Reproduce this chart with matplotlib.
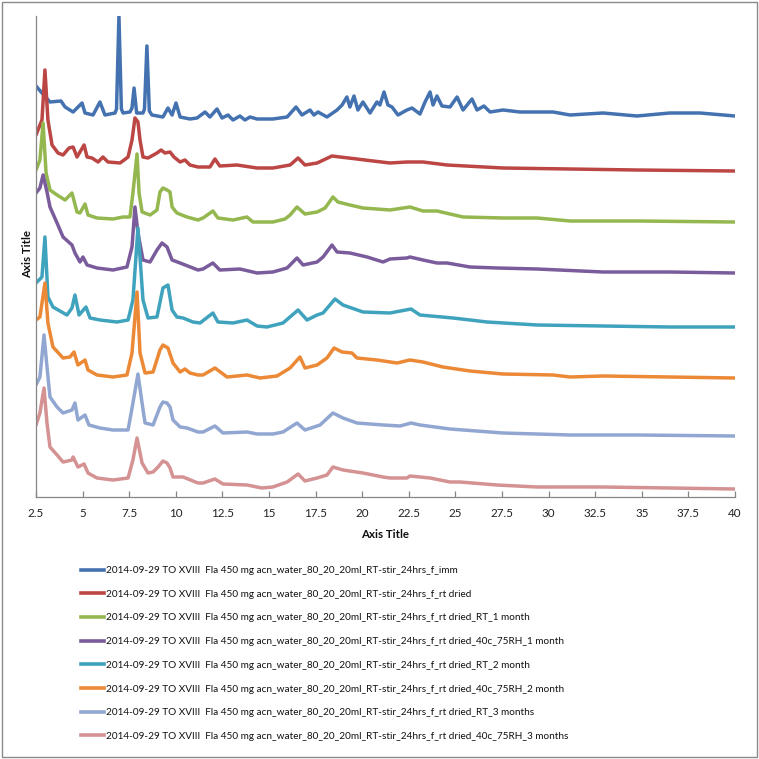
import matplotlib
matplotlib.use("Agg")
import matplotlib.pyplot as plt
from matplotlib.patches import Rectangle
from matplotlib.lines import Line2D
from matplotlib import font_manager

# ---------------- data (2-theta in degrees, intensity in arbitrary stacked units) ----------------
x_imm = [2.50, 2.82, 3.25, 3.84, 4.06, 4.49, 4.97, 5.13, 5.56, 5.93, 6.20, 6.74, 6.82, 6.95, 7.08, 7.17,
         7.54, 7.65, 7.76, 7.90, 8.24, 8.32, 8.45, 8.58, 8.72, 9.31, 9.58, 9.80, 10.01, 10.23, 10.76,
         11.14, 11.57, 11.83, 12.21, 12.48, 12.80, 13.07, 13.44, 13.71, 13.98, 14.36, 15.21, 15.97,
         16.45, 16.77, 17.20, 17.41, 17.63, 18.11, 18.65, 18.92, 19.18, 19.34, 19.56, 19.77, 20.04,
         20.42, 20.79, 20.95, 21.17, 21.38, 21.60, 21.92, 22.40, 22.67, 23.10, 23.37, 23.64, 23.80,
         24.01, 24.28, 24.71, 25.09, 25.41, 25.89, 26.16, 26.53, 26.86, 27.55, 28.47, 30.24, 31.15,
         32.92, 34.74, 36.51, 38.12, 40.00]
y_imm = [404, 397, 388, 389, 383, 378, 387, 377, 375, 388, 375, 377, 381, 474, 381, 377,
         378, 382, 402, 377, 377, 381, 444, 379, 375, 373, 382, 375, 387, 373, 371,
         372, 378, 373, 381, 372, 375, 370, 374, 370, 373, 371, 371, 373,
         383, 375, 380, 375, 378, 373, 380, 385, 393, 383, 394, 380, 388,
         377, 388, 385, 398, 385, 383, 375, 380, 382, 376, 388, 398, 385,
         394, 384, 383, 393, 380, 391, 380, 384, 378, 380, 378, 378, 375,
         377, 374, 377, 377, 374]

x_rtdried = [2.50, 2.82, 2.98, 3.14, 3.36, 3.68, 3.95, 4.27, 4.49, 4.70, 5.08, 5.24, 5.50, 5.83, 6.09,
             6.36, 7.01, 7.44, 7.65, 7.81, 7.97, 8.08, 8.24, 8.51, 8.99, 9.21, 9.42, 9.69, 9.90, 10.23,
             10.49, 10.76, 11.19, 11.83, 12.10, 12.36, 13.28, 14.36, 15.21, 16.13, 16.56, 16.93, 17.58,
             18.38, 18.81, 19.72, 20.58, 21.49, 22.40, 23.26, 24.55, 27.55, 31.15, 34.74, 40.00]
y_rtdried = [355, 370, 420, 370, 345, 337, 335, 342, 343, 333, 345, 333, 332, 328, 333,
             328, 327, 333, 350, 372, 368, 350, 333, 332, 337, 340, 337, 338, 333, 328,
             330, 325, 323, 323, 331, 324, 325, 322, 322, 325, 332, 325, 327,
             334, 333, 331, 329, 327, 328, 328, 325, 322, 321, 320, 319]

x_rt1m = [2.50, 2.71, 2.88, 3.04, 3.25, 3.63, 4.06, 4.43, 4.70, 4.86, 5.13, 5.29, 5.77, 6.63, 7.17,
          7.54, 7.70, 7.92, 8.03, 8.19, 8.62, 8.99, 9.15, 9.31, 9.53, 9.69, 9.80, 10.06, 10.60, 11.19,
          11.46, 11.99, 12.26, 13.07, 13.82, 14.14, 15.21, 15.86, 16.13, 16.50, 16.93, 17.58, 18.01,
          18.43, 18.70, 19.34, 20.04, 21.49, 22.56, 23.26, 24.01, 25.41, 27.55, 29.38, 31.15, 34.74, 40.00]
y_rt1m = [320, 330, 367, 317, 300, 295, 290, 297, 278, 277, 286, 275, 272, 271, 273,
          273, 297, 336, 297, 278, 275, 280, 298, 302, 300, 298, 283, 277, 273, 270,
          272, 279, 272, 270, 273, 268, 268, 271, 275, 283, 276, 278, 282,
          293, 288, 285, 282, 280, 283, 279, 279, 273, 272, 272, 269, 269, 268]

x_40c1m = [2.50, 2.71, 2.88, 3.09, 3.25, 3.63, 3.95, 4.43, 4.59, 4.86, 5.02, 5.24, 5.77, 6.63, 7.38,
           7.65, 7.81, 7.97, 8.24, 8.62, 8.99, 9.26, 9.53, 9.80, 10.23, 11.19, 11.46, 11.99, 12.36,
           13.44, 14.36, 15.21, 15.97, 16.50, 16.83, 17.58, 17.90, 18.38, 18.65, 19.34, 20.26, 21.12,
           21.49, 22.40, 22.56, 23.26, 24.01, 24.55, 25.78, 27.23, 29.38, 32.92, 36.51, 40.00]
y_40c1m = [297, 302, 315, 298, 283, 267, 253, 245, 237, 228, 233, 225, 222, 220, 223,
           243, 283, 257, 230, 228, 240, 247, 243, 230, 227, 220, 221, 227, 220,
           221, 217, 218, 222, 232, 225, 228, 233, 245, 238, 237, 233, 228,
           231, 232, 233, 230, 227, 227, 223, 222, 221, 218, 218, 217]

x_rt2m = [2.50, 2.82, 2.98, 3.14, 3.41, 4.16, 4.43, 4.59, 4.81, 5.18, 5.40, 5.93, 6.85, 7.44, 7.70,
          7.97, 8.24, 8.51, 8.99, 9.31, 9.58, 9.80, 10.06, 10.39, 10.92, 11.30, 11.99, 12.26, 13.07,
          13.82, 14.36, 14.89, 15.75, 16.56, 17.04, 17.58, 17.90, 18.54, 18.97, 20.04, 21.49, 22.62,
          23.10, 24.87, 26.70, 29.38, 32.92, 36.51, 40.00]
y_rt2m = [207, 213, 253, 193, 183, 175, 182, 195, 175, 183, 172, 170, 168, 170, 190,
          262, 190, 172, 173, 202, 205, 180, 173, 172, 168, 167, 177, 168, 167,
          170, 164, 163, 167, 180, 170, 175, 177, 191, 185, 178, 177, 181,
          175, 172, 168, 165, 164, 163, 163]

x_40c2m = [2.50, 2.71, 2.98, 3.14, 3.41, 3.95, 4.32, 4.54, 4.75, 5.13, 5.29, 5.77, 6.63, 7.38, 7.65,
           7.92, 8.08, 8.35, 8.78, 9.15, 9.31, 9.58, 9.85, 10.23, 10.49, 10.76, 11.19, 11.46, 12.10,
           12.75, 13.82, 14.52, 15.43, 16.13, 16.66, 16.93, 17.58, 18.11, 18.49, 18.92, 19.45, 19.72,
           20.79, 21.87, 22.56, 23.26, 24.33, 25.78, 27.55, 30.24, 31.15, 32.92, 36.51, 40.00]
y_40c2m = [170, 173, 207, 167, 143, 132, 133, 138, 125, 130, 120, 115, 113, 115, 137,
           198, 137, 117, 118, 140, 145, 142, 127, 118, 121, 117, 115, 115, 122,
           113, 115, 112, 114, 122, 133, 122, 125, 132, 142, 138, 137, 132,
           130, 127, 130, 128, 123, 119, 116, 115, 113, 114, 113, 112]

x_rt3m = [2.50, 2.71, 2.93, 3.09, 3.25, 3.63, 3.95, 4.43, 4.59, 4.75, 5.13, 5.34, 5.93, 6.63, 7.44,
          7.70, 7.97, 8.19, 8.35, 8.78, 9.15, 9.31, 9.53, 9.69, 9.85, 10.23, 10.60, 11.19, 11.46,
          12.10, 12.53, 13.82, 14.36, 15.21, 15.75, 16.50, 16.93, 17.74, 18.43, 18.97, 19.72, 21.12,
          22.03, 22.62, 23.10, 24.71, 27.55, 31.15, 34.74, 40.00]
y_rt3m = [105, 113, 155, 123, 93, 83, 77, 80, 87, 70, 75, 65, 62, 60, 60,
          87, 116, 87, 67, 65, 83, 88, 87, 83, 70, 63, 62, 58, 58,
          64, 57, 58, 56, 56, 58, 67, 60, 65, 77, 72, 67, 65,
          64, 67, 65, 61, 57, 55, 55, 54]

x_40c3m = [2.50, 2.71, 2.93, 3.09, 3.25, 3.63, 3.95, 4.43, 4.49, 4.75, 5.08, 5.29, 5.77, 6.63, 7.44,
           7.70, 7.92, 8.19, 8.51, 8.78, 9.05, 9.31, 9.53, 9.69, 9.85, 10.39, 11.19, 11.46, 12.10,
           12.53, 13.82, 14.62, 15.21, 15.97, 16.56, 16.93, 17.58, 18.11, 18.43, 18.97, 20.04, 21.12,
           21.49, 22.40, 22.56, 23.64, 24.71, 25.25, 27.23, 29.38, 32.92, 36.51, 40.00]
y_40c3m = [65, 77, 102, 67, 43, 35, 28, 30, 33, 23, 26, 17, 12, 10, 12,
           30, 52, 27, 17, 18, 23, 29, 27, 22, 13, 13, 7, 7, 11,
           6, 5, 2, 3, 8, 16, 9, 12, 15, 23, 20, 17, 13,
           12, 12, 14, 12, 8, 8, 5, 3, 3, 2, 1]

series_names = [
    "2014-09-29 TO XVIII  Fla 450 mg acn_water_80_20_20ml_RT-stir_24hrs_f_imm",
    "2014-09-29 TO XVIII  Fla 450 mg acn_water_80_20_20ml_RT-stir_24hrs_f_rt dried",
    "2014-09-29 TO XVIII  Fla 450 mg acn_water_80_20_20ml_RT-stir_24hrs_f_rt dried_RT_1 month",
    "2014-09-29 TO XVIII  Fla 450 mg acn_water_80_20_20ml_RT-stir_24hrs_f_rt dried_40c_75RH_1 month",
    "2014-09-29 TO XVIII  Fla 450 mg acn_water_80_20_20ml_RT-stir_24hrs_f_rt dried_RT_2 month",
    "2014-09-29 TO XVIII  Fla 450 mg acn_water_80_20_20ml_RT-stir_24hrs_f_rt dried_40c_75RH_2 month",
    "2014-09-29 TO XVIII  Fla 450 mg acn_water_80_20_20ml_RT-stir_24hrs_f_rt dried_RT_3 months",
    "2014-09-29 TO XVIII  Fla 450 mg acn_water_80_20_20ml_RT-stir_24hrs_f_rt dried_40c_75RH_3 months",
]
x_ticks = [2.5, 5, 7.5, 10, 12.5, 15, 17.5, 20, 22.5, 25, 27.5, 30, 32.5, 35, 37.5, 40]
x_tick_labels = ["2.5", "5", "7.5", "10", "12.5", "15", "17.5", "20", "22.5", "25", "27.5", "30",
                 "32.5", "35", "37.5", "40"]

# ---------------- styling ----------------
colors = ["#4472B0", "#BB4644", "#94B74F", "#7A5C9C", "#3FA3BD", "#EC8936", "#91A7D1", "#D49293"]
xs = [x_imm, x_rtdried, x_rt1m, x_40c1m, x_rt2m, x_40c2m, x_rt3m, x_40c3m]
ys = [y_imm, y_rtdried, y_rt1m, y_40c1m, y_rt2m, y_40c2m, y_rt3m, y_40c3m]

names = {f.name for f in font_manager.fontManager.ttflist}
base_font = "Lato" if "Lato" in names else "DejaVu Sans"
plt.rcParams["font.family"] = [base_font, "DejaVu Sans"]

W = H = 759
fig = plt.figure(figsize=(W / 100, H / 100), dpi=100)
fig.patch.set_facecolor("white")

# plot area: x from px 36 to 735, y from px 16 (top) to 497 (x-axis line)
ax = fig.add_axes([36 / W, 1 - 497 / H, (735 - 36) / W, (497 - 16) / H])
for xv, yv, c, n in zip(xs, ys, colors, series_names):
    ax.plot(xv, yv, color=c, lw=2.5, solid_joinstyle="round", solid_capstyle="round", label=n)

ax.set_xlim(2.5, 40)
ax.set_ylim(-7, 474)
ax.set_xticks(x_ticks)
ax.set_xticklabels(x_tick_labels, fontsize=8.4, color="#222222")
ax.set_yticks([])
for s in ["top", "right"]:
    ax.spines[s].set_visible(False)
for s in ["left", "bottom"]:
    ax.spines[s].set_color("#868686")
    ax.spines[s].set_linewidth(0.9)
ax.tick_params(axis="x", direction="in", length=4, width=0.9, color="#868686", pad=8)

fig.text(385 / W, 1 - 534 / H, "Axis Title", ha="center", va="center", fontsize=8.3,
         fontweight="bold", color="#111111")
fig.text(28 / W, 1 - 254 / H, "Axis Title", ha="center", va="center", fontsize=8.3,
         fontweight="bold", rotation=90, color="#111111")

handles = [Line2D([], [], color=c, lw=2.6) for c in colors]
leg = fig.legend(handles, series_names, loc="upper left",
                 bbox_to_anchor=(81 / W, 1 - 566 / H), frameon=False,
                 prop={"size": 7.2},
                 handlelength=2.25, handletextpad=0.2, labelspacing=1.47,
                 borderaxespad=0, borderpad=0)
for t in leg.get_texts():
    t.set_color("#111111")

fig.add_artist(Rectangle((2 / W, 2 / H), 755 / W, 755 / H, transform=fig.transFigure,
                         fill=False, edgecolor="#8a8a8a", lw=1.0))

fig.savefig("out.png", dpi=100, facecolor="white")
